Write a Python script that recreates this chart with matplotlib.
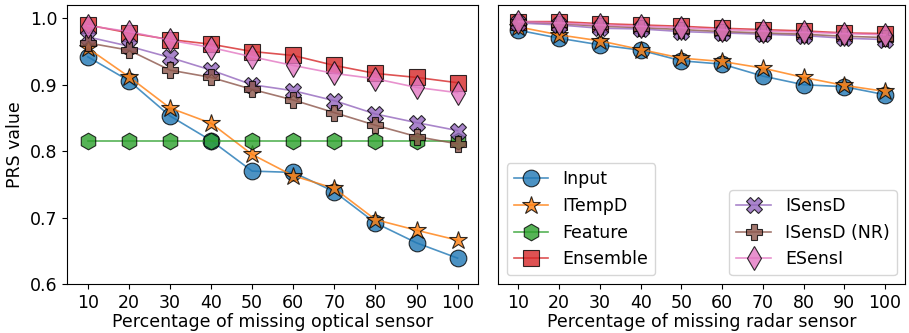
import numpy as np
import matplotlib
matplotlib.use("Agg")
import matplotlib.pyplot as plt

# missing percentage (x axis)
pct = [10, 20, 30, 40, 50, 60, 70, 80, 90, 100]

# optical sensor missing (left panel)
opt_input    = [0.942, 0.906, 0.853, 0.816, 0.770, 0.768, 0.739, 0.692, 0.662, 0.639]
opt_itempd   = [0.955, 0.912, 0.865, 0.842, 0.795, 0.763, 0.744, 0.697, 0.681, 0.666]
opt_feature  = [0.816] * 10
opt_ensemble = [0.990, 0.978, 0.968, 0.961, 0.950, 0.944, 0.929, 0.917, 0.911, 0.903]
opt_isensd   = [0.972, 0.958, 0.941, 0.922, 0.900, 0.891, 0.876, 0.856, 0.843, 0.831]
opt_isensd_nr = [0.963, 0.952, 0.922, 0.911, 0.893, 0.877, 0.858, 0.839, 0.822, 0.811]
opt_esensi   = [0.989, 0.980, 0.967, 0.956, 0.942, 0.929, 0.917, 0.909, 0.896, 0.888]

# radar sensor missing (right panel)
rad_input    = [0.982, 0.970, 0.960, 0.952, 0.936, 0.931, 0.913, 0.900, 0.897, 0.885]
rad_itempd   = [0.987, 0.975, 0.966, 0.953, 0.940, 0.935, 0.925, 0.911, 0.899, 0.890]
rad_ensemble = [0.995, 0.995, 0.992, 0.990, 0.988, 0.985, 0.983, 0.981, 0.978, 0.977]
rad_isensd   = [0.993, 0.990, 0.985, 0.984, 0.980, 0.978, 0.976, 0.974, 0.970, 0.968]
rad_isensd_nr = [0.995, 0.992, 0.988, 0.986, 0.983, 0.980, 0.978, 0.976, 0.973, 0.971]
rad_esensi   = [0.995, 0.993, 0.990, 0.988, 0.986, 0.983, 0.981, 0.979, 0.977, 0.975]

styles = {
    "Input": ("o", "tab:blue"),
    "ITempD": ("*", "tab:orange"),
    "Feature": ("h", "tab:green"),
    "Ensemble": ("s", "tab:red"),
    "ISensD": ("X", "tab:purple"),
    "ISensD (NR)": ("P", "tab:brown"),
    "ESensI": ("d", "tab:pink"),
}

plt.rcParams["font.size"] = 12.5

fig = plt.figure(figsize=(9.09, 3.33), dpi=100)
ax1 = fig.add_axes([0.074, 0.147, 0.452, 0.838])
ax2 = fig.add_axes([0.548, 0.147, 0.448, 0.838], sharey=ax1)


def draw(ax, name, vals):
    m, c = styles[name]
    ms = 13.5 if m == "*" else 12
    ax.plot(pct, vals, marker=m, color=c, markersize=ms, markeredgecolor="black",
            markeredgewidth=0.8, alpha=0.8, linewidth=1.2, label=name)


draw(ax1, "Input", opt_input)
draw(ax1, "ITempD", opt_itempd)
draw(ax1, "Feature", opt_feature)
draw(ax1, "Ensemble", opt_ensemble)
draw(ax1, "ISensD", opt_isensd)
draw(ax1, "ISensD (NR)", opt_isensd_nr)
draw(ax1, "ESensI", opt_esensi)

draw(ax2, "Input", rad_input)
draw(ax2, "ITempD", rad_itempd)
draw(ax2, "Ensemble", rad_ensemble)
draw(ax2, "ISensD", rad_isensd)
draw(ax2, "ISensD (NR)", rad_isensd_nr)
draw(ax2, "ESensI", rad_esensi)

for ax in (ax1, ax2):
    ax.set_xticks(pct)
    ax.set_xlim(5, 105)
ax1.set_ylim(0.6, 1.02)
ax1.set_yticks([0.6, 0.7, 0.8, 0.9, 1.0])
plt.setp(ax2.get_yticklabels(), visible=False)
ax2.tick_params(axis="y", length=0)

ax1.set_ylabel("PRS value")
ax1.set_xlabel("Percentage of missing optical sensor", labelpad=1)
ax2.set_xlabel("Percentage of missing radar sensor", labelpad=1)

h, l = ax1.get_legend_handles_labels()
leg1 = ax2.legend(h[:4], l[:4], loc="lower left")
ax2.add_artist(leg1)
ax2.legend(h[4:], l[4:], loc="lower right")

fig.savefig("out.png")
